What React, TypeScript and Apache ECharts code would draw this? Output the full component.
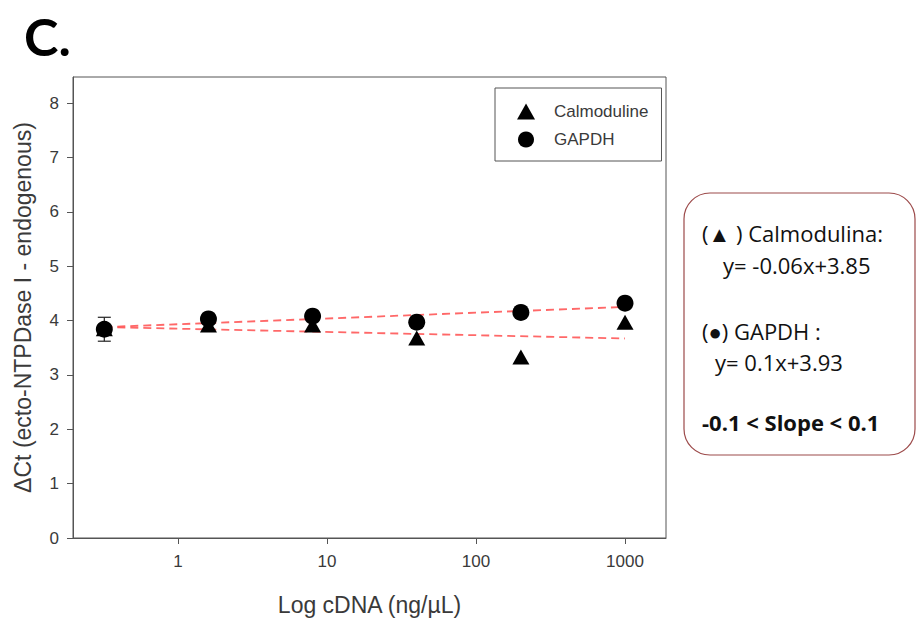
import React, { useEffect, useRef } from "react";
import * as echarts from "echarts";

// concentrations (ng/µL), plotted on a log10 scale
const conc = [0.32, 1.6, 8, 40, 200, 1000];
const calmoduline = [3.85, 3.92, 3.92, 3.68, 3.33, 3.97];
const gapdh = [3.84, 4.03, 4.08, 3.97, 4.15, 4.32];
const gapdhErr = [0.22, 0.07, 0, 0, 0, 0];
// regression line end points (at first and last concentration)
const calFit = [3.88, 3.67];
const gapFit = [3.88, 4.25];
const xTicks = [1, 10, 100, 1000];
const yTicks = [0, 1, 2, 3, 4, 5, 6, 7, 8];

const lg = (v: number) => Math.log10(v);

export default function App() {
  const ref = useRef<HTMLDivElement>(null);
  useEffect(() => {
    if (!ref.current) return;
    const chart = echarts.init(ref.current, null, { renderer: "svg" });
    const axisColor = "#555";
    const labelColor = "#3a3a3a";
    const arial = "'Liberation Sans', Arial, sans-serif";
    const boxFont = "'Open Sans', sans-serif";
    const fitEnds = [lg(conc[0]), lg(conc[conc.length - 1])];
    const boxText = (text: string, x: number, y: number, bold = false) => ({
      type: "text",
      x,
      y,
      style: {
        text,
        fontFamily: boxFont,
        fontSize: 22,
        fontWeight: bold ? "bold" : "normal",
        lineHeight: 22,
        fill: "#111",
        textVerticalAlign: "middle",
      },
    });
    chart.setOption({
      animation: false,
      backgroundColor: "#fff",
      textStyle: { fontFamily: arial },
      grid: {
        left: 73,
        top: 77,
        right: 251,
        bottom: 84,
        show: true,
        borderColor: axisColor,
        borderWidth: 1,
      },
      legend: {
        orient: "vertical",
        left: 495,
        top: 88,
        data: ["Calmoduline", "GAPDH"],
        borderColor: axisColor,
        borderWidth: 1,
        padding: [15, 13, 13, 22],
        itemWidth: 18,
        itemHeight: 16,
        itemGap: 11,
        symbolKeepAspect: true,
        textStyle: { fontSize: 17, color: labelColor, fontFamily: arial, padding: [0, 0, 0, 14] },
      },
      xAxis: {
        type: "value",
        min: -0.705,
        max: 3.275,
        name: "Log cDNA (ng/\u00b5L)",
        nameLocation: "middle",
        nameGap: 55,
        nameTextStyle: { fontSize: 23, color: labelColor, fontFamily: arial },
        axisLine: { onZero: false, lineStyle: { color: axisColor } },
        axisTick: { inside: false, length: 6, customValues: xTicks.map(lg), lineStyle: { color: axisColor } },
        axisLabel: {
          customValues: xTicks.map(lg),
          formatter: (v: number) => String(Math.round(Math.pow(10, v))),
          fontSize: 17,
          color: labelColor,
          margin: 15,
        },
        splitLine: { show: false },
      },
      yAxis: {
        type: "value",
        min: 0,
        max: 8.48,
        name: "\u0394Ct (ecto-NTPDase I - endogenous)",
        nameLocation: "middle",
        nameGap: 39,
        nameTextStyle: { fontSize: 23, color: labelColor, fontFamily: arial },
        axisLine: { show: true, onZero: false, lineStyle: { color: axisColor } },
        axisTick: { show: true, length: 6, customValues: yTicks, lineStyle: { color: axisColor } },
        axisLabel: { customValues: yTicks, fontSize: 17, color: labelColor, margin: 14 },
        splitLine: { show: false },
      },
      series: [
        {
          name: "Calmoduline fit",
          type: "line",
          data: fitEnds.map((x, i) => [x, calFit[i]]),
          showSymbol: false,
          lineStyle: { color: "#ff4d4d", width: 1.8, type: [8, 5], opacity: 0.85 },
          z: 1,
        },
        {
          name: "GAPDH fit",
          type: "line",
          data: fitEnds.map((x, i) => [x, gapFit[i]]),
          showSymbol: false,
          lineStyle: { color: "#ff4d4d", width: 1.8, type: [8, 5], opacity: 0.85 },
          z: 1,
        },
        {
          name: "GAPDH err",
          type: "custom",
          data: conc.map((c, i) => [lg(c), gapdh[i], gapdhErr[i]]),
          renderItem: (params: any, api: any) => {
            const x = api.value(0);
            const y = api.value(1);
            const e = api.value(2);
            if (!e) return null;
            const top = api.coord([x, y + e]);
            const bot = api.coord([x, y - e]);
            const w = 6.5;
            const st = { stroke: "#222", lineWidth: 1.2 };
            return {
              type: "group",
              children: [
                { type: "line", shape: { x1: top[0], y1: top[1], x2: bot[0], y2: bot[1] }, style: st },
                { type: "line", shape: { x1: top[0] - w, y1: top[1], x2: top[0] + w, y2: top[1] }, style: st },
                { type: "line", shape: { x1: bot[0] - w, y1: bot[1], x2: bot[0] + w, y2: bot[1] }, style: st },
              ],
            };
          },
          z: 2,
        },
        {
          name: "Calmoduline",
          type: "scatter",
          symbol: "triangle",
          symbolSize: [17, 15],
          symbolKeepAspect: true,
          data: conc.map((c, i) => [lg(c), calmoduline[i]]),
          itemStyle: { color: "#000", opacity: 1 },
          z: 3,
        },
        {
          name: "GAPDH",
          type: "scatter",
          symbol: "circle",
          symbolSize: 17,
          data: conc.map((c, i) => [lg(c), gapdh[i]]),
          itemStyle: { color: "#000", opacity: 1 },
          z: 4,
        },
      ],
      graphic: [
        {
          type: "text",
          left: 24,
          top: 10,
          style: { text: "C.", font: "bold 52px Lato, 'Open Sans', sans-serif", fill: "#000" },
        },
        {
          type: "rect",
          shape: { x: 684, y: 193, width: 231, height: 262, r: 26 },
          style: { fill: "none", stroke: "#9c4a4a", lineWidth: 1.2 },
        },
        boxText("(\u25b2 ) Calmodulina:", 702, 233),
        boxText("y= -0.06x+3.85", 723, 265),
        boxText("(\u25cf) GAPDH :", 702, 331),
        boxText("y= 0.1x+3.93", 715, 362),
        boxText("-0.1 < Slope < 0.1", 702, 422, true),
      ],
    });
    return () => chart.dispose();
  }, []);
  return (
    <div
      ref={ref}
      style={{ position: "fixed", left: 0, top: 0, width: 917, height: 622 }}
    />
  );
}
